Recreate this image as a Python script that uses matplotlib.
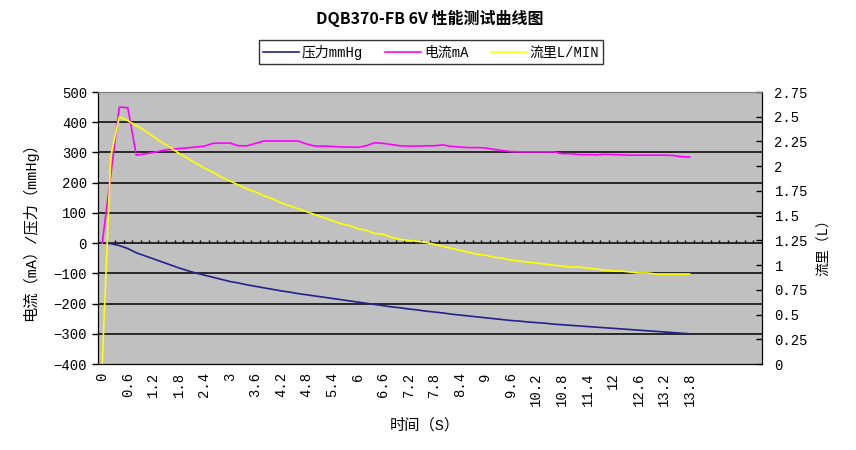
import matplotlib.pyplot as plt
import numpy as np

plt.rcParams['font.family'] = ['Noto Sans CJK SC', 'DejaVu Sans']
mixed = ['Liberation Mono', 'Noto Sans CJK SC']

# time categories (s)
times = [0, 0.2, 0.4, 0.6, 0.8, 1, 1.2, 1.4, 1.6, 1.8,
         2, 2.2, 2.4, 2.6, 2.8, 3, 3.2, 3.4, 3.6, 3.8,
         4, 4.2, 4.4, 4.6, 4.8, 5, 5.2, 5.4, 5.6, 5.8,
         6, 6.2, 6.4, 6.6, 6.8, 7, 7.2, 7.4, 7.6, 7.8,
         8, 8.2, 8.4, 8.6, 8.8, 9, 9.2, 9.4, 9.6, 9.8,
         10, 10.2, 10.4, 10.6, 10.8, 11, 11.2, 11.4, 11.6, 11.8,
         12, 12.2, 12.4, 12.6, 12.8, 13, 13.2, 13.4, 13.6, 13.8]

# pressure mmHg
pressure = [0, -2, -8, -18, -32, -42, -52, -62, -72, -82,
            -91, -99, -106, -113, -120, -127, -132, -138, -143, -148,
            -153, -158, -162, -167, -171, -175, -179, -183, -187, -191,
            -195, -199, -203, -207, -211, -214, -218, -221, -225, -228,
            -231, -235, -238, -241, -244, -247, -250, -253, -256, -258,
            -261, -263, -265, -268, -270, -272, -274, -276, -278, -280,
            -282, -284, -286, -288, -290, -292, -294, -296, -298, -300]

# current mA
current = [0, 225, 450, 448, 291, 295, 300, 306, 310, 313,
           315, 318, 321, 330, 331, 331, 322, 322, 330, 338,
           338, 338, 338, 338, 328, 321, 321, 320, 318, 318,
           317, 322, 332, 330, 326, 322, 321, 321, 322, 322,
           325, 320, 318, 316, 316, 315, 310, 306, 303, 302,
           302, 302, 302, 302, 296, 296, 293, 293, 292, 294,
           293, 292, 291, 291, 291, 291, 291, 290, 286, 285]

# flow L/MIN
flow = [0, 2.1, 2.5, 2.46, 2.41, 2.36, 2.30, 2.24, 2.19, 2.13,
        2.08, 2.03, 1.98, 1.94, 1.89, 1.85, 1.81, 1.77, 1.74, 1.70,
        1.67, 1.63, 1.60, 1.57, 1.54, 1.51, 1.48, 1.45, 1.42, 1.40,
        1.37, 1.35, 1.32, 1.31, 1.28, 1.26, 1.25, 1.24, 1.23, 1.21,
        1.19, 1.17, 1.15, 1.13, 1.11, 1.10, 1.08, 1.07, 1.05, 1.04,
        1.03, 1.02, 1.01, 1.00, 0.99, 0.98, 0.98, 0.97, 0.96, 0.95,
        0.94, 0.94, 0.93, 0.92, 0.92, 0.91, 0.91, 0.91, 0.91, 0.91]

n_slots = 78  # category slots on the axis (the last ones are empty)
x = np.arange(len(times))

fig = plt.figure(figsize=(8.56, 4.5), dpi=100)
ax = fig.add_axes([98/856, 86/450, 664/856, 272/450])
ax.set_facecolor('#C0C0C0')

ax.set_ylim(-400, 500)
ax.set_yticks(np.arange(-400, 501, 100))
for v in range(-300, 401, 100):
    ax.axhline(v, color='black', lw=1.1, zorder=1)
ax.set_xlim(-0.5, n_slots - 0.5)

# category axis crossing at 0 with tick marks between categories
ax.plot(np.arange(-0.5, n_slots), np.zeros(n_slots + 1), linestyle='none',
        marker=2, markersize=2.5, color='black', mew=1, zorder=2)

l1, = ax.plot(x, pressure, color='#22228C', lw=1.2, zorder=3)
l2, = ax.plot(x, current, color='#FF00FF', lw=1.2, zorder=3)

ax2 = ax.twinx()
ax2.set_ylim(0, 2.75)
ax2.set_yticks(np.arange(0, 2.76, 0.25))
ax2.set_yticklabels(['0', '0.25', '0.5', '0.75', '1', '1.25', '1.5', '1.75',
                     '2', '2.25', '2.5', '2.75'])
l3, = ax2.plot(x, flow, color='#FFFF00', lw=1.2, zorder=4)

tick_idx = x[::3]
ax.set_xticks(tick_idx)
ax.set_xticklabels(['%g' % times[i] for i in tick_idx], rotation=90,
                   family='Liberation Mono', fontsize=10)
ax.tick_params(axis='x', length=0, pad=6)
ax.tick_params(axis='y', direction='out', length=4, width=1, pad=4)
ax2.tick_params(axis='y', direction='in', length=4, width=1, pad=9)
for lab in ax.get_yticklabels() + ax2.get_yticklabels():
    lab.set_family('Liberation Mono')
    lab.set_fontsize(10)

for a in (ax, ax2):
    a.spines['top'].set_color('#808080')
    a.spines['left'].set_color('black')
    a.spines['right'].set_color('black')
    a.spines['bottom'].set_color('black')

ax.set_xlabel('时间（S）', fontsize=11, family=mixed)
ax.xaxis.set_label_coords((425 - 98) / 664, -0.2)
ax.set_ylabel('电流（mA）/压力（mmHg）', fontsize=11, family=mixed)
ax.yaxis.set_label_coords(-0.09, 0.5)
ax2.set_ylabel('流里（L）', fontsize=10, family=mixed)
ax2.yaxis.set_label_coords(1.083, 0.44)

fig.suptitle('DQB370-FB 6V 性能测试曲线图', x=430/856, y=1 - 10/450,
             fontsize=11.5, fontweight='bold', va='top')

leg = fig.legend([l1, l2, l3], ['压力mmHg', '电流mA', '流里L/MIN'],
                 loc='center', bbox_to_anchor=(431/856, 1 - 52/450),
                 ncol=3, frameon=True, fancybox=False,
                 prop={'family': mixed, 'size': 10},
                 handlelength=2.6, handletextpad=0.2, columnspacing=1.6,
                 borderpad=0.3)
leg.get_frame().set_edgecolor('black')
leg.get_frame().set_linewidth(1)

fig.savefig('out.png', dpi=100)
